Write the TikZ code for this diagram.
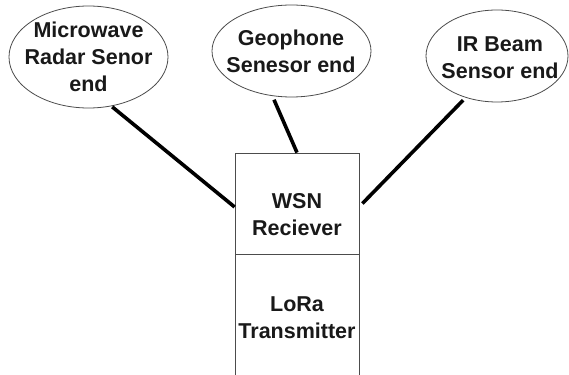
\documentclass[tikz,border=0pt]{standalone}
\usepackage{fontspec}
\setmainfont{Liberation Sans}
\usetikzlibrary{shapes.geometric}
\begin{document}
\begin{tikzpicture}[x=1pt,y=-1pt,
  sensor/.style={draw=black!70,line width=0.8pt,ellipse,inner sep=0pt},
  lbl/.style={align=center,inner sep=0pt,font=\bfseries\fontsize{21.5}{27}\selectfont,text=black!90},
  blk/.style={draw=black!70,line width=0.8pt,rectangle,inner sep=0pt,minimum width=124pt},
  link/.style={line width=3.6pt,black}]
\clip (0,0) rectangle (569,374);
\fill[white] (0,0) rectangle (569,374);
% sensor ellipses
\node[sensor,minimum width=159pt,minimum height=102pt] (e1) at (88.5,57) {};
\node[sensor,minimum width=159pt,minimum height=92pt] (e2) at (291.5,51) {};
\node[sensor,minimum width=142pt,minimum height=92pt] (e3) at (497,56) {};
\node[lbl] (t1) at (88.5,56.5) {Microwave\\Radar Senor\\end};
\node[lbl] (t2) at (291,51.5) {Geophone\\Senesor end};
\node[lbl] (t3) at (500,57.5) {IR Beam\\Sensor end};
% blocks
\node[blk,minimum height=101pt] (wsn) at (297,203.5) {};
\node[blk,minimum height=132pt] (lora) at (297,320) {};
\node[lbl] (tw) at (297,215) {WSN\\Reciever};
\node[lbl] (tl) at (297,317.5) {LoRa\\Transmitter};
% links
\draw[link,shorten <=1pt] (e1.-65) -- ([yshift=-3.5pt]wsn.west);
\draw[link,shorten <=4pt] (e2.-113.7) -- (wsn.north);
\draw[link,shorten <=3.5pt] (e3.-127.7) -- ([xshift=3pt]wsn.east);
\end{tikzpicture}
\end{document}
